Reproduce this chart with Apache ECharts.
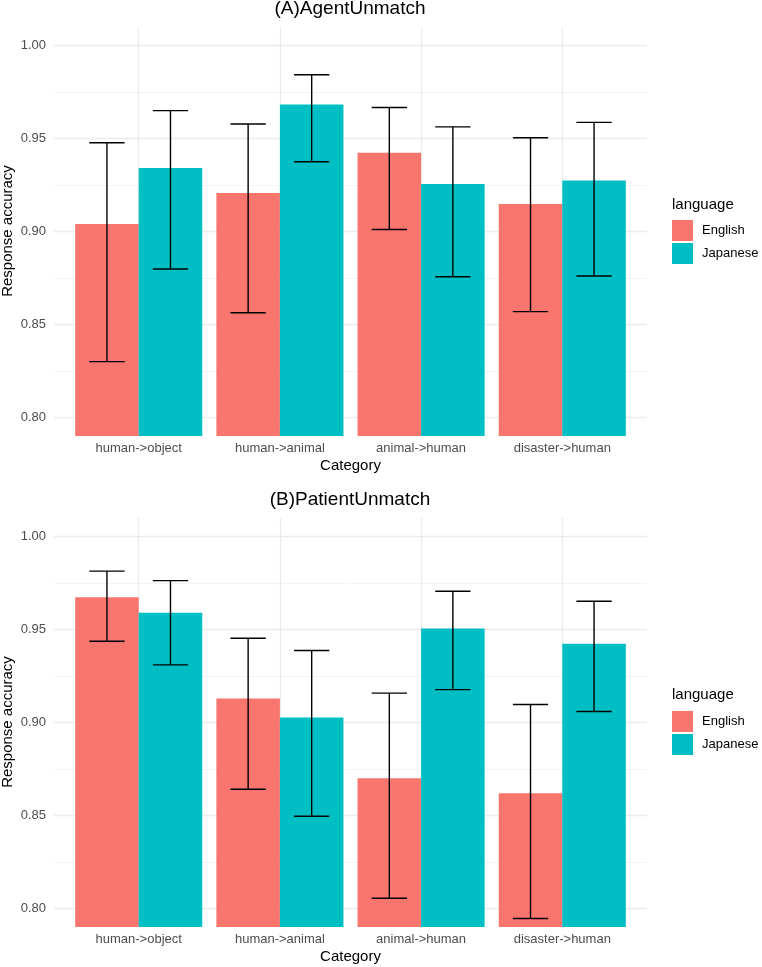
<!DOCTYPE html>
<html>
<head>
<meta charset="utf-8">
<script src="https://cdn.jsdelivr.net/npm/echarts@6/dist/echarts.min.js"></script>
<style>
  html, body { margin: 0; padding: 0; background: #fff; }
  #main { width: 762px; height: 967px; }
</style>
</head>
<body>
<div id="main"></div>
<script>
var categories = ['human->object', 'human->animal', 'animal->human', 'disaster->human'];
var languages = ['English', 'Japanese'];

// (A) AgentUnmatch
var agentEnglish = [0.904, 0.9207, 0.9424, 0.9148];
var agentEnglishLow = [0.830, 0.8563, 0.9011, 0.8569];
var agentEnglishHigh = [0.9477, 0.9578, 0.9667, 0.9504];
var agentJapanese = [0.9341, 0.9683, 0.9255, 0.9275];
var agentJapaneseLow = [0.8798, 0.9375, 0.8757, 0.8761];
var agentJapaneseHigh = [0.965, 0.9843, 0.9563, 0.9587];

// (B) PatientUnmatch
var patientEnglish = [0.9674, 0.9129, 0.870, 0.862];
var patientEnglishLow = [0.9437, 0.8641, 0.8055, 0.7946];
var patientEnglishHigh = [0.9814, 0.9453, 0.9158, 0.9097];
var patientJapanese = [0.9591, 0.9027, 0.9505, 0.9423];
var patientJapaneseLow = [0.931, 0.8496, 0.9177, 0.9059];
var patientJapaneseHigh = [0.9763, 0.9387, 0.9706, 0.9652];

var yTicks = [0.80, 0.85, 0.90, 0.95, 1.00];

var FONT = '"Liberation Sans", Arial, Helvetica, sans-serif';
var colors = ['#F8766D', '#00BFC4'];

function barData(vals) {
    return vals.map(function (v, i) { return [i + 1, v]; });
}
function errData(lo, hi) {
    return lo.map(function (v, i) { return [i + 1, v, hi[i]]; });
}

function errRender(offset) {
    return function (params, api) {
        var x = api.value(0) + offset;
        var top = api.coord([x, api.value(2)]);
        var bot = api.coord([x, api.value(1)]);
        var half = api.size([0.125, 0])[0];
        var style = { stroke: '#000', lineWidth: 1.4 };
        return {
            type: 'group',
            children: [
                { type: 'line', shape: { x1: top[0], y1: top[1], x2: bot[0], y2: bot[1] }, style: style },
                { type: 'line', shape: { x1: top[0] - half, y1: top[1], x2: top[0] + half, y2: top[1] }, style: style },
                { type: 'line', shape: { x1: bot[0] - half, y1: bot[1], x2: bot[0] + half, y2: bot[1] }, style: style }
            ]
        };
    };
}

function xAxisFor(idx) {
    return {
        type: 'value', gridIndex: idx, min: 0.4, max: 4.6, minInterval: 1, maxInterval: 1,
        name: 'Category', nameLocation: 'middle', nameGap: 22,
        nameTextStyle: { fontFamily: FONT, fontSize: 15, color: '#000' },
        axisLine: { show: false }, axisTick: { show: false },
        axisLabel: {
            margin: 6, fontFamily: FONT, fontSize: 13, color: '#4d4d4d',
            showMinLabel: false, showMaxLabel: false,
            formatter: function (v) {
                var i = Math.round(v);
                return Math.abs(v - i) < 1e-6 && categories[i - 1] ? categories[i - 1] : '';
            }
        },
        splitLine: { show: true, showMinLine: false, showMaxLine: false, lineStyle: { color: '#ebebeb', width: 1.3 } }
    };
}

function yAxisFor(idx) {
    return {
        type: 'value', gridIndex: idx, min: 0.79, max: 1.01,
        axisLine: { show: false }, axisTick: { show: false },
        axisLabel: {
            margin: 8, fontFamily: FONT, fontSize: 13, color: '#4d4d4d',
            showMinLabel: false, showMaxLabel: false,
            formatter: function (v) {
                for (var i = 0; i < yTicks.length; i++) {
                    if (Math.abs(v - yTicks[i]) < 1e-6) return yTicks[i].toFixed(2);
                }
                return '';
            }
        },
        splitLine: { show: true, showMinLine: false, showMaxLine: false, lineStyle: { color: '#ebebeb', width: 1.3 } },
        minorTick: { show: false, splitNumber: 2 },
        minorSplitLine: { show: true, lineStyle: { color: '#f3f3f3', width: 0.9 } }
    };
}

function panelSeries(idx, eng, engLo, engHi, jap, japLo, japHi) {
    return [
        { name: 'English', type: 'bar', xAxisIndex: idx, yAxisIndex: idx, data: barData(eng),
          barWidth: '45%', barGap: '0%', itemStyle: { color: colors[0] }, z: 2 },
        { name: 'Japanese', type: 'bar', xAxisIndex: idx, yAxisIndex: idx, data: barData(jap),
          barWidth: '45%', barGap: '0%', itemStyle: { color: colors[1] }, z: 2 },
        { type: 'custom', xAxisIndex: idx, yAxisIndex: idx, data: errData(engLo, engHi),
          encode: { x: 0, y: [1, 2] }, renderItem: errRender(-0.225), z: 5 },
        { type: 'custom', xAxisIndex: idx, yAxisIndex: idx, data: errData(japLo, japHi),
          encode: { x: 0, y: [1, 2] }, renderItem: errRender(0.225), z: 5 }
    ];
}

function legendFor(top) {
    return {
        orient: 'vertical', left: 667, top: top, data: languages, icon: 'rect',
        itemWidth: 21, itemHeight: 21, itemGap: 2,
        textStyle: { fontFamily: FONT, fontSize: 13, color: '#000', padding: [0, 0, 0, 4] }
    };
}

function label(text, x, y, size, rotation) {
    return {
        type: 'text', x: x, y: y, rotation: rotation || 0,
        style: { text: text, fontFamily: FONT, fontSize: size, fill: '#000', align: 'center', verticalAlign: 'middle' }
    };
}

var myChart = echarts.init(document.getElementById('main'));
var option = {
    animation: false,
    backgroundColor: '#fff',
    grid: [
        { left: 54, right: 115, top: 27, height: 409, containLabel: false, outerBoundsMode: 'none' },
        { left: 54, right: 115, top: 518, height: 409, containLabel: false, outerBoundsMode: 'none' }
    ],
    xAxis: [xAxisFor(0), xAxisFor(1)],
    yAxis: [yAxisFor(0), yAxisFor(1)],
    legend: [legendFor(215), legendFor(706)],
    graphic: [
        label('(A)AgentUnmatch', 350, 9, 19),
        label('(B)PatientUnmatch', 350, 500, 19),
        label('Response accuracy', 8, 231, 15, Math.PI / 2),
        label('Response accuracy', 8, 722, 15, Math.PI / 2),
        { type: 'text', x: 672, y: 205, style: { text: 'language', fontFamily: FONT, fontSize: 15, fill: '#000', verticalAlign: 'middle' } },
        { type: 'text', x: 672, y: 695, style: { text: 'language', fontFamily: FONT, fontSize: 15, fill: '#000', verticalAlign: 'middle' } }
    ],
    series: panelSeries(0, agentEnglish, agentEnglishLow, agentEnglishHigh, agentJapanese, agentJapaneseLow, agentJapaneseHigh)
        .concat(panelSeries(1, patientEnglish, patientEnglishLow, patientEnglishHigh, patientJapanese, patientJapaneseLow, patientJapaneseHigh))
};
myChart.setOption(option);
</script>
</body>
</html>
